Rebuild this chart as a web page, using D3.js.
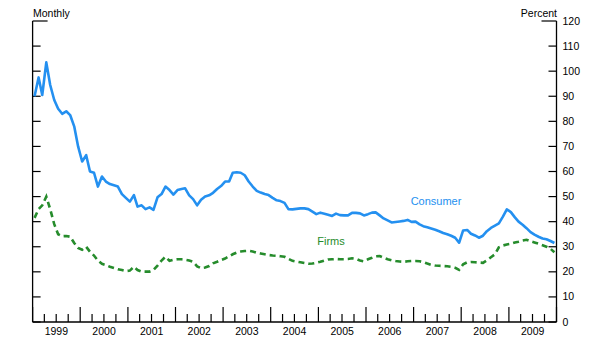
<!DOCTYPE html>
<html><head><meta charset="utf-8">
<script src="https://cdn.jsdelivr.net/npm/d3@7"></script>
<style>
html,body{margin:0;padding:0;background:#fff;}
svg{display:block;font-family:"Liberation Sans",Arial,Helvetica,sans-serif;}
</style></head>
<body><svg id="c" width="600" height="353"></svg>
<script>
// Monthly data, Jan 1999 - Dec 2009
const startYear = 1999;
const consumer = [
 90,97.5,90.5,103.5,94.5,88.5,85,83,84,82.5,78,70,
 64,66.5,60,59.5,54,58,56,55,54.5,54,51,49.5,
 48,50.6,46,46.5,45,45.7,44.7,49.7,51,54,52.6,50.8,
 52.6,53,53.3,50.5,49,46.5,48.7,50,50.5,51.5,53,54.2,
 56,56,59.5,59.7,59.5,58.5,56,54,52.3,51.6,51,50.6,
 49.5,48.5,48.2,47.5,45,44.9,45.1,45.3,45.3,45,44,43,
 43.6,43.2,42.8,42.3,43.2,42.6,42.5,42.5,43.5,43.5,43.3,42.5,
 43,43.6,43.7,42.5,41.3,40.5,39.7,39.9,40.1,40.3,40.7,39.9,
 40,38.9,38.2,37.8,37.3,36.8,36.2,35.5,35,34.4,33.6,31.6,
 36.5,36.7,35.2,34.5,33.6,34.4,36.2,37.5,38.4,39.3,42,44.9,
 43.8,41.7,40,38.8,37.4,35.8,34.8,34,33.3,33,32.3,31.5
];
const firms = [
 41.5,45,46.5,50,45,39,35,34.2,34.3,34,31.5,29.5,
 28.8,30,28,26.5,24.5,23.2,22.7,22,21.5,21,20.7,20.3,
 20.5,22,20.7,20.1,20.1,20.1,20.7,22.5,24.5,26,24.4,24.8,
 25,25,24.8,24.5,24,22.2,21.5,21.7,22.3,23.4,24,24.7,
 25.3,26.2,27,27.7,28.1,28.3,28.4,28.1,27.6,27.3,27,26.7,
 26.5,26.4,26.2,26,25.2,24.4,24.1,23.8,23.5,23.2,23.3,23.6,
 24,24.5,24.9,25,25.1,25,25,25.1,25.4,25.2,24.5,24.2,
 25,25.6,26.2,26.3,25.6,25,24.6,24.3,24.1,24,24.2,24.3,
 24.3,24.2,23.9,23.3,22.8,22.5,22.4,22.3,22.2,22,21.6,20.8,
 23,23.8,23.9,23.8,23.7,23.6,24.6,25.8,27,29.8,30.5,30.9,
 31.2,31.7,32,32.5,32.8,32.2,31.7,31.2,30.6,30,29.2,27.8
];
const yearLabels = ["1999","2000","2001","2002","2003","2004","2005","2006","2007","2008","2009"];
const yTicks = [0,10,20,30,40,50,60,70,80,90,100,110,120];

const svg = d3.select("#c");
const L = 32.6, R = 556.5, T = 21, B = 322;
const x = d3.scaleTime().domain([new Date(1999,0,1), new Date(2010,0,1)]).range([L, R]);
const y = d3.scaleLinear().domain([0,120]).range([B, T]);
const dates = consumer.map((d,i)=> new Date(startYear, i, 16));

const ink = "#000";
// axes lines
svg.append("line").attr("x1",L).attr("x2",L).attr("y1",T).attr("y2",B).attr("stroke",ink).attr("stroke-width",1.3);
svg.append("line").attr("x1",R).attr("x2",R).attr("y1",T).attr("y2",B).attr("stroke",ink).attr("stroke-width",1.3);
svg.append("line").attr("x1",L).attr("x2",R).attr("y1",B).attr("y2",B).attr("stroke",ink).attr("stroke-width",1.3);

// y ticks left & right (inward)
yTicks.forEach(v=>{
  const len = v===120 ? 15 : 8;
  svg.append("line").attr("x1",L).attr("x2",L+len).attr("y1",y(v)).attr("y2",y(v)).attr("stroke",ink).attr("stroke-width",1.2);
  svg.append("line").attr("x1",R-len).attr("x2",R).attr("y1",y(v)).attr("y2",y(v)).attr("stroke",ink).attr("stroke-width",1.2);
  svg.append("text").attr("x",R+6).attr("y",y(v)+3.5).attr("font-size",10.5).attr("fill",ink).text(v);
});

// x ticks: quarterly minor, yearly major
const quarters = d3.timeMonth.every(3).range(new Date(1999,0,1), new Date(2010,0,2));
quarters.forEach(d=>{
  const major = d.getMonth()===0;
  svg.append("line").attr("x1",x(d)).attr("x2",x(d)).attr("y1",B).attr("y2",B-(major?15:8)).attr("stroke",ink).attr("stroke-width",1.2);
});
yearLabels.forEach((lab,i)=>{
  const mid = new Date(1999+i,6,2);
  svg.append("text").attr("x",x(mid)).attr("y",335).attr("text-anchor","middle").attr("font-size",10.5).attr("fill",ink).text(lab);
});

svg.append("text").attr("x",33).attr("y",17).attr("font-size",10.5).attr("fill",ink).text("Monthly");
svg.append("text").attr("x",557).attr("y",17).attr("text-anchor","end").attr("font-size",10.5).attr("fill",ink).text("Percent");

const line = d3.line().x((d,i)=>x(dates[i])).y(d=>y(d));
svg.append("path").datum(consumer).attr("d",line).attr("fill","none").attr("stroke","#2490f0").attr("stroke-width",2.6).attr("stroke-linejoin","round");
svg.append("path").datum(firms).attr("d",line).attr("fill","none").attr("stroke","#268c2c").attr("stroke-width",2.6).attr("stroke-dasharray","6,4");

svg.append("text").attr("x",436).attr("y",205).attr("text-anchor","middle").attr("font-size",11).attr("fill","#2490f0").text("Consumer");
svg.append("text").attr("x",331).attr("y",245).attr("text-anchor","middle").attr("font-size",11).attr("fill","#268c2c").text("Firms");
</script></body></html>
